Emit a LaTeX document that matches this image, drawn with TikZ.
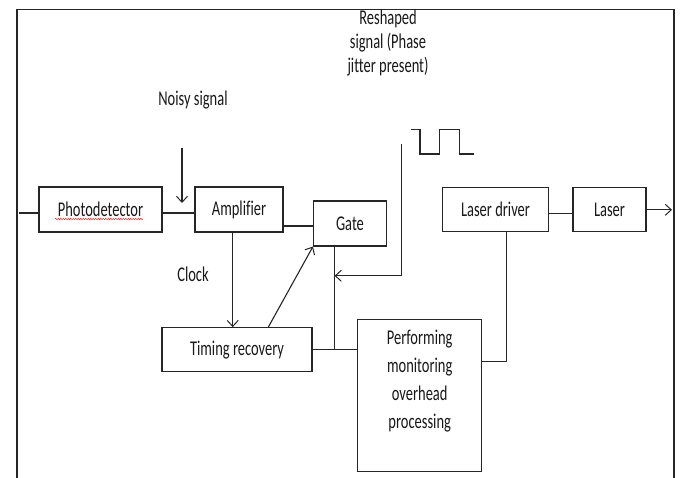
\documentclass[tikz,border=0pt]{standalone}
\usepackage{fontspec}
\setmainfont{Carlito}
\newfontfamily\narrowfont{Carlito}[FakeStretch=0.69,Ligatures=NoCommon]
\usetikzlibrary{arrows.meta,decorations.pathmorphing}

\begin{document}
\begin{tikzpicture}[
  x=1pt, y=-1pt, line width=1.1pt, draw=black!85,
  box/.style={rectangle,draw,inner sep=0pt,text=black!90,font=\narrowfont\fontsize{21}{25}\selectfont},
  txt/.style={inner sep=0pt,align=center,text=black!90,font=\narrowfont\fontsize{21}{25}\selectfont},
  arr/.style={-{Straight Barb[length=6pt,width=11pt,line width=1pt]}}
]
  \useasboundingbox (0,0) rectangle (681,478);
  \draw (17,478) -- (17,9.5) -- (674,9.5) -- (674,478);
  \node[box,minimum width=123,minimum height=45] (photo) at (100.5,209.5) {Photodetector};
  \node[box,minimum width=88,minimum height=45] (amp) at (239,209.5) {Amplifier};
  \node[box,minimum width=73,minimum height=45] (gate) at (350,223.5) {Gate};
  \node[box,minimum width=106,minimum height=44] (ldrv) at (495.5,209.6) {Laser driver};
  \node[box,minimum width=73,minimum height=44] (laser) at (609.5,209.6) {Laser};
  \node[box,minimum width=150,minimum height=44] (timing) at (237,349.7) {Timing recovery};
  \node[box,minimum width=124,minimum height=152,anchor=north] (pmop) at (419.7,319.3) {};
  \node[txt,anchor=base,font=\narrowfont\fontsize{21}{28}\selectfont] (pmoptext) at (419.7,429) {Performing\\monitoring\\overhead\\processing};
  \node[txt,anchor=base] (noisy) at (193,105.5) {Noisy signal};
  \node[txt,anchor=base,font=\narrowfont\fontsize{21}{24}\selectfont] (reshaped) at (388,73) {Reshaped\\signal (Phase\\jitter present)};
  \node[txt,anchor=base] (clock) at (193,282) {Clock};
  \coordinate (in) at (19,213);
  \coordinate (noisytop) at (182,148);
  \coordinate (noisytip) at (182,203);
  \coordinate (out) at (672,209.8);
  \coordinate (rtop) at (401.6,144);
  \coordinate (rbend) at (401.6,275.8);
  \coordinate (rtip) at (334.6,275.8);
  \coordinate (clk) at (232.7,0);
  \coordinate (diag) at (268.3,0);
  \coordinate (gbus) at (334.6,0);
  \coordinate (fb) at (506.7,361.7);
  \draw[red,line width=0.5pt,decorate,decoration={snake,amplitude=0.6pt,segment length=2.5pt}] (55,219) -- (143,219);
  \draw (in) -- (in -| photo.west);
  \draw (photo.east |- in) -- (amp.west |- in);
  \draw[arr] (noisytop) -- (noisytip);
  \draw (amp.east |- 0,226) -- (gate.west |- 0,226);
  \draw[arr] (amp.south -| clk) -- (timing.north -| clk);
  \draw[arr] (timing.north -| diag) -- (gate.south west);
  \draw (gate.south -| gbus) -- (timing.east -| gbus);
  \draw (timing.east) -- (pmop.west |- timing.east);
  \draw[arr] (rtop) -- (rbend) -- (rtip);
  \draw (411.3,129.4) -- (420,129.4) -- (420,154) -- (439.7,154) -- (439.7,129.4) -- (459.8,129.4) -- (459.8,154) -- (473.6,154);
  \draw (pmop.east |- fb) -| (ldrv.south -| fb);
  \draw (ldrv.east |- 0,213.8) -- (laser.west |- 0,213.8);
  \draw[arr] (laser.east |- out) -- (out);
\end{tikzpicture}
\end{document}
